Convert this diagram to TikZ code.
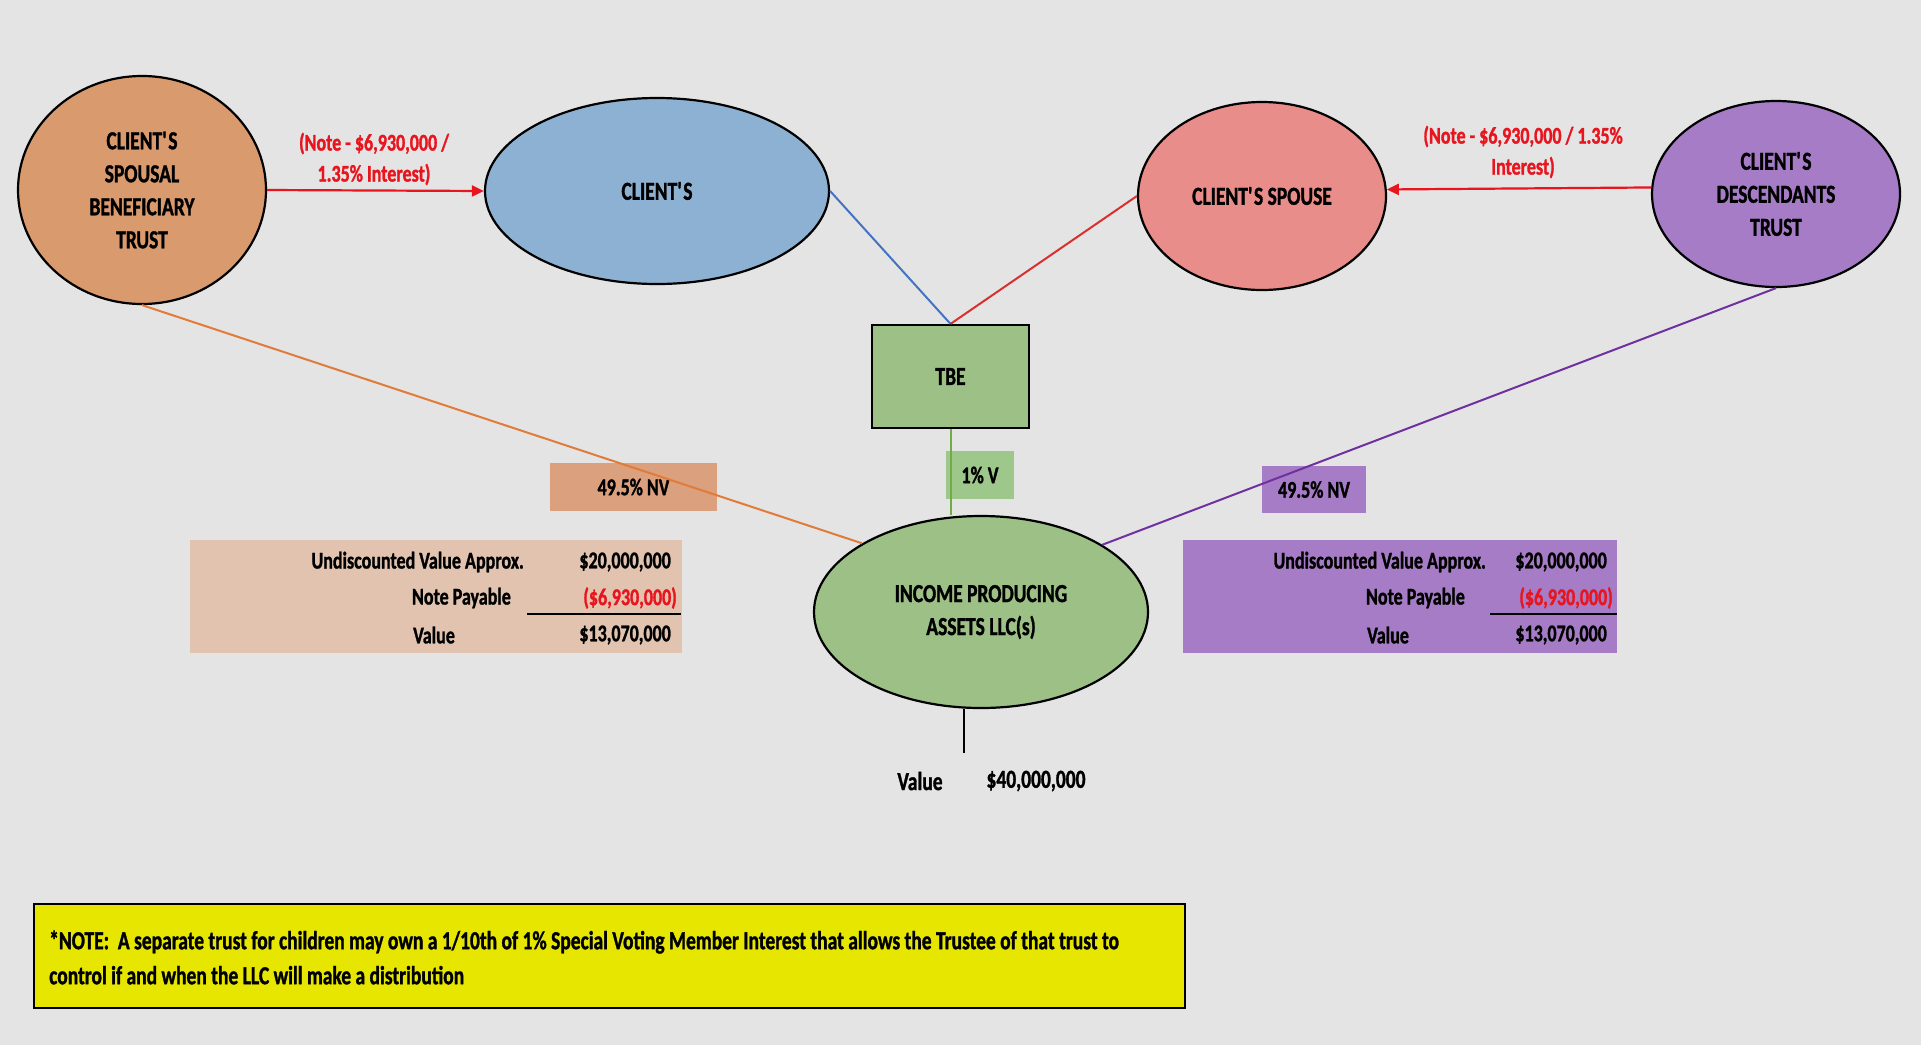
\documentclass[tikz,border=0pt]{standalone}
\usepackage{fontspec}
\setmainfont{Carlito}[FakeStretch=0.75,BoldFeatures={FakeBold=1.2}]
\usetikzlibrary{shapes.geometric,arrows.meta}

\definecolor{bg}{HTML}{E4E4E4}
\definecolor{trustorange}{HTML}{D99A6E}
\definecolor{clientblue}{HTML}{8DB1D3}
\definecolor{spousepink}{HTML}{E88D89}
\definecolor{descpurple}{HTML}{A67CC6}
\definecolor{llcgreen}{HTML}{9CC086}
\definecolor{vgreen}{HTML}{9DC78B}
\definecolor{peach}{HTML}{E1C3AF}
\definecolor{nvorange}{HTML}{DBA07D}
\definecolor{noteyellow}{HTML}{E6E600}
\definecolor{notered}{HTML}{E8141E}
\definecolor{lineblue}{HTML}{4472C4}
\definecolor{linered}{HTML}{D9302E}
\definecolor{lineorange}{HTML}{E07B39}
\definecolor{linepurple}{HTML}{7030A0}
\definecolor{linegreen}{HTML}{70AD47}

\newcommand{\apos}{\textquotesingle}

\begin{document}
\begin{tikzpicture}[x=1pt,y=-1pt,
  oval/.style={ellipse,draw=black,line width=2.2pt,inner sep=0pt,align=center,
    font=\fontsize{26}{33}\selectfont\bfseries},
  tag/.style={inner sep=0pt,align=center,font=\fontsize{24}{26}\selectfont\bfseries},
  cell/.style={inner sep=0pt,font=\fontsize{24}{26}\selectfont\bfseries},
  loan/.style={inner sep=0pt,align=center,text=notered,
    font=\fontsize{24}{31}\selectfont\bfseries},
  loanarrow/.style={draw=notered,line width=2.2pt,-{Triangle[length=12pt,width=11pt]}},
  link/.style={line width=2pt}]

% canvas
\fill[bg] (0,0) rectangle (1921,1045);
\useasboundingbox (0,0) rectangle (1921,1045);

% owners
\node[oval,fill=trustorange,minimum width=248pt,minimum height=228pt] (spousal) at (142,190)
  {CLIENT\apos S\\SPOUSAL\\BENEFICIARY\\TRUST};
\node[oval,fill=clientblue,minimum width=344pt,minimum height=186pt] (client) at (657,191) {CLIENT\apos S};
\node[oval,fill=spousepink,minimum width=248pt,minimum height=188pt] (spouse) at (1262,196) {CLIENT\apos S SPOUSE};
\node[oval,fill=descpurple,minimum width=248pt,minimum height=186pt] (desc) at (1776,194)
  {CLIENT\apos S\\DESCENDANTS\\TRUST};

% tenancy by the entirety
\node[draw=black,line width=2.2pt,fill=llcgreen,minimum width=157pt,minimum height=103pt,
  inner sep=0pt,font=\fontsize{26}{28}\selectfont\bfseries] (tbe) at (950.5,376.5) {TBE};

% the LLC
\node[oval,fill=llcgreen,minimum width=334pt,minimum height=192pt] (llc) at (981,612)
  {INCOME PRODUCING\\ASSETS LLC(s)};

% interest labels
\node[tag,fill=vgreen,minimum width=68pt,minimum height=48pt] (vote) at (980,475) {1\% V};
\node[tag,fill=nvorange,minimum width=167pt,minimum height=48pt] (nvleft) at (633.5,487) {49.5\% NV};
\node[tag,fill=descpurple,minimum width=104pt,minimum height=47pt] (nvright) at (1314,489.5) {49.5\% NV};

% value tables
\fill[peach] (190,540) rectangle (682,653);
\fill[descpurple] (1183,540) rectangle (1617,653);

\node[cell,anchor=east] (lu) at (524,562) {Undiscounted Value Approx.};
\node[cell,anchor=east] (lun) at (671,562) {\$20,000,000};
\node[cell,anchor=east] (lp) at (511,598) {Note Payable};
\node[cell,anchor=east,text=notered] (lpn) at (677,598) {(\$6,930,000)};
\node[cell,anchor=west] (lv) at (413,635) {Value};
\node[cell,anchor=east] (lvn) at (671,635) {\$13,070,000};
\coordinate (lrulea) at (527,614);
\coordinate (lruleb) at (681,614);
\draw[line width=2.4pt] (lrulea) -- (lruleb);

\node[cell,anchor=east] (ru) at (1486,562) {Undiscounted Value Approx.};
\node[cell,anchor=east] (run) at (1607,562) {\$20,000,000};
\node[cell,anchor=east] (rp) at (1465,598) {Note Payable};
\node[cell,anchor=east,text=notered] (rpn) at (1613,598) {(\$6,930,000)};
\node[cell,anchor=west] (rv) at (1367,635) {Value};
\node[cell,anchor=east] (rvn) at (1607,635) {\$13,070,000};
\coordinate (rrulea) at (1490,614);
\coordinate (rruleb) at (1617,614);
\draw[line width=2.4pt] (rrulea) -- (rruleb);

% ownership lines
\draw[link,lineblue] (client.east) -- (tbe.north);
\draw[link,linered] (spouse.west) -- (tbe.north);
\draw[link,lineorange] (spousal.south) -- (llc.150);
\draw[link,linepurple] (desc.south) -- (llc.29);
\draw[link,linegreen] (tbe.south) -- (llc.north -| tbe.south);

% notes between trusts and spouses
\draw[loanarrow] (spousal.east) -- (client.west);
\draw[loanarrow] (desc.177) -- (spouse.3);
\node[loan] (loanleft) at (374,159) {(Note - \$6,930,000 /\\1.35\% Interest)};
\node[loan] (loanright) at (1523,152) {(Note - \$6,930,000 / 1.35\%\\Interest)};

% LLC value
\coordinate (vtick) at (964,753);
\draw[line width=1.8pt] (llc.south -| vtick) -- (vtick);
\node[cell,font=\fontsize{26}{28}\selectfont\bfseries] (valword) at (920,781) {Value};
\node[cell,font=\fontsize{26}{28}\selectfont\bfseries] (valnum) at (1036,781) {\$40,000,000};

% footnote
\node[draw=black,line width=2.6pt,fill=noteyellow,minimum width=1151pt,minimum height=104pt,
  inner sep=0pt] (notebox) at (609.5,956) {};
\node[anchor=west,align=left,inner sep=0pt,font=\fontsize{26}{35}\selectfont\bfseries] (notetext)
  at (49,957.5) {*NOTE:\ \ A separate trust for children may own a 1/10th of 1\% Special Voting Member Interest that allows the Trustee of that trust to\\control if and when the LLC will make a distribution};
\end{tikzpicture}
\end{document}
